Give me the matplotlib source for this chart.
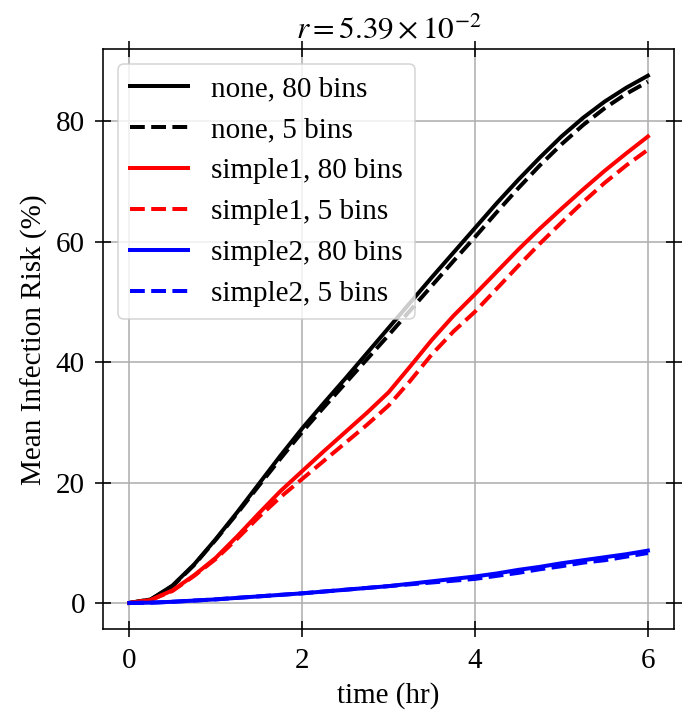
import matplotlib
matplotlib.use("Agg")
import matplotlib.pyplot as plt

# ---- data ----
time_hr = [0, 0.25, 0.5, 0.75, 1.0, 1.25, 1.5, 1.75, 2.0, 2.25, 2.5, 2.75, 3.0,
           3.25, 3.5, 3.75, 4.0, 4.25, 4.5, 4.75, 5.0, 5.25, 5.5, 5.75, 6.0]

none_80 = [0, 0.6, 2.9, 6.4, 10.6, 15.1, 19.8, 24.5, 29.0, 33.2, 37.3, 41.5, 45.7,
           49.9, 54.1, 58.2, 62.3, 66.4, 70.3, 74.0, 77.5, 80.6, 83.3, 85.6, 87.6]
none_5 = [0, 0.6, 2.8, 6.3, 10.5, 14.9, 19.5, 24.0, 28.4, 32.5, 36.5, 40.5, 44.5,
          48.6, 52.7, 56.8, 60.8, 64.9, 68.9, 72.7, 76.2, 79.4, 82.2, 84.6, 86.6]
simple1_80 = [0, 0.5, 2.1, 4.6, 7.5, 11.1, 14.9, 18.6, 21.9, 25.2, 28.4, 31.6, 35.0,
              39.3, 43.7, 47.7, 51.3, 55.0, 58.7, 62.2, 65.5, 68.7, 71.8, 74.7, 77.5]
simple1_5 = [0, 0.5, 2.0, 4.5, 7.3, 10.7, 14.3, 17.6, 20.6, 23.6, 26.6, 29.6, 32.8,
             36.9, 41.3, 45.1, 48.4, 52.2, 56.0, 59.7, 63.2, 66.6, 69.8, 72.7, 75.3]
simple2_80 = [0, 0.05, 0.2, 0.4, 0.6, 0.85, 1.1, 1.35, 1.6, 1.9, 2.2, 2.5, 2.8,
              3.2, 3.6, 4.0, 4.4, 4.9, 5.5, 6.0, 6.6, 7.1, 7.6, 8.1, 8.7]
simple2_5 = [0, 0.05, 0.2, 0.4, 0.6, 0.85, 1.1, 1.35, 1.6, 1.9, 2.2, 2.5, 2.8,
             3.1, 3.4, 3.7, 4.0, 4.5, 5.0, 5.6, 6.1, 6.7, 7.1, 7.7, 8.3]

labels = ["none, 80 bins", "none, 5 bins", "simple1, 80 bins", "simple1, 5 bins",
          "simple2, 80 bins", "simple2, 5 bins"]
title = r"$r = 5.39 \times 10^{-2}$"
xticks = [0, 2, 4, 6]
yticks = [0, 20, 40, 60, 80]

S = 1.44
FS = 21
plt.rcParams["font.family"] = ["Liberation Serif", "DejaVu Serif"]
plt.rcParams["mathtext.fontset"] = "stix"
plt.rcParams["font.size"] = FS

fig = plt.figure(figsize=(6.89, 7.19), dpi=100)
ax = fig.add_axes([0.150, 0.1247, 0.978 - 0.150, 0.9314 - 0.1247])

series = [(none_80, "black", "-"), (none_5, "black", "--"),
          (simple1_80, "red", "-"), (simple1_5, "red", "--"),
          (simple2_80, "blue", "-"), (simple2_5, "blue", "--")]
for (vals, col, ls), lab in zip(series, labels):
    ax.plot(time_hr, vals, color=col, linestyle=ls, linewidth=2 * S, label=lab,
            solid_joinstyle="round", dash_joinstyle="round")

ax.set_xticks(xticks)
ax.set_yticks(yticks)
ax.grid(True, color="#b0b0b0", linewidth=0.8 * S)
ax.tick_params(direction="inout", top=True, right=True, length=11.5,
               width=0.8 * S, labelsize=FS, pad=7.5)
for sp in ax.spines.values():
    sp.set_linewidth(0.8 * S)

ax.set_xlabel("time (hr)", fontsize=FS, labelpad=4 * S)
ax.set_ylabel("Mean Infection Risk (%)", fontsize=FS, labelpad=4 * S)
ax.set_title(title, fontsize=22.5, pad=6 * S)

leg = ax.legend(loc="upper left", fontsize=FS)
leg.get_frame().set_linewidth(0.8 * S)

fig.savefig("out.png", dpi=100)
